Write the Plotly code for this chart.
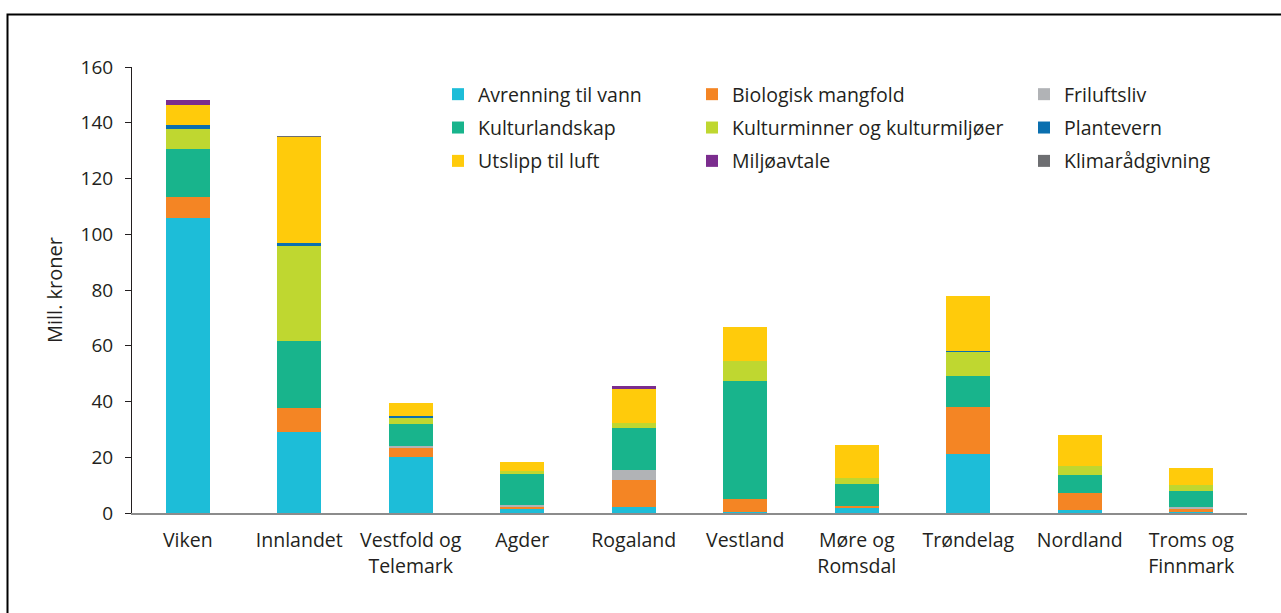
import plotly.graph_objects as go

regions = ["Viken", "Innlandet", "Vestfold og<br>Telemark", "Agder", "Rogaland",
           "Vestland", "Møre og<br>Romsdal", "Trøndelag", "Nordland", "Troms og<br>Finnmark"]

avrenning = [106.0, 29.2, 20.0, 1.3, 2.3, 0.5, 1.8, 21.2, 1.1, 0.3]
biologisk = [7.4, 8.4, 3.4, 1.0, 9.4, 4.4, 0.7, 16.7, 6.0, 1.0]
friluftsliv = [0, 0, 0.6, 0.5, 3.8, 0, 0, 0, 0, 0.9]
kulturlandskap = [17.2, 24.2, 8.0, 11.3, 15.1, 42.4, 7.9, 11.2, 6.7, 5.8]
kulturminner = [7.2, 34.1, 2.2, 0.9, 1.6, 7.4, 2.2, 8.7, 3.0, 2.0]
plantevern = [1.5, 1.0, 0.6, 0, 0, 0, 0, 0.4, 0, 0]
utslipp = [7.2, 38.0, 4.7, 3.3, 12.3, 11.9, 11.8, 19.6, 11.1, 6.3]
miljoavtale = [1.5, 0, 0, 0, 1.1, 0, 0, 0, 0, 0]
klima = [0, 0.3, 0, 0, 0, 0, 0, 0, 0, 0]

series = [
    ("Avrenning til vann", avrenning, "#1DBDD8", "legend"),
    ("Biologisk mangfold", biologisk, "#F48524", "legend2"),
    ("Friluftsliv", friluftsliv, "#B1B3B6", "legend3"),
    ("Kulturlandskap", kulturlandskap, "#18B48C", "legend"),
    ("Kulturminner og kulturmiljøer", kulturminner, "#BFD730", "legend2"),
    ("Plantevern", plantevern, "#0A6FAF", "legend3"),
    ("Utslipp til luft", utslipp, "#FFCB0B", "legend"),
    ("Miljøavtale", miljoavtale, "#7B2D8E", "legend2"),
    ("Klimarådgivning", klima, "#6D6E71", "legend3"),
]

FONT = "Open Sans"
TXT = "#231F20"

fig = go.Figure()
for name, vals, color, lg in series:
    fig.add_trace(go.Bar(
        x=regions, y=vals, name=name, legend=lg, legendgroup=name,
        marker=dict(color=color, line=dict(width=0)),
    ))

# plot area: x 132..1247, y 67..513
def lx(px):
    return (px - 132) / 1115.0

def ly(py):
    return (513 - py) / 446.0

legend_common = dict(
    orientation="v", traceorder="grouped", tracegroupgap=5,
    bgcolor="rgba(0,0,0,0)", borderwidth=0,
    font=dict(family=FONT, size=19.5, color=TXT),
    xanchor="left", yanchor="top", y=ly(75),
)

fig.update_layout(
    barmode="stack",
    bargap=0.605,
    width=1281, height=613,
    margin=dict(l=132, r=34, t=67, b=100),
    paper_bgcolor="white", plot_bgcolor="white",
    font=dict(family=FONT, size=19, color=TXT),
    legend=dict(x=lx(438), **legend_common),
    legend2=dict(x=lx(692), **legend_common),
    legend3=dict(x=lx(1024), **legend_common),
    xaxis=dict(
        showline=True, linecolor="#8C8C8C", linewidth=2,
        ticks="", showgrid=False, ticklabelstandoff=9,
        tickfont=dict(family=FONT, size=19.5, color=TXT),
    ),
    yaxis=dict(
        range=[0, 160], dtick=20, showgrid=False, zeroline=False,
        showline=True, linecolor=TXT, linewidth=1,
        ticks="outside", ticklen=6, tickcolor=TXT, tickwidth=1,
        ticklabelstandoff=8,
        tickfont=dict(family=FONT, size=19, color=TXT),
        title=dict(text="Mill. kroner", font=dict(family=FONT, size=20, color=TXT), standoff=12),
    ),
    shapes=[dict(
        type="rect", xref="paper", yref="paper",
        x0=lx(7.5), x1=1.2, y0=-0.6, y1=ly(14.5),
        line=dict(color="black", width=2), fillcolor="rgba(0,0,0,0)", layer="above",
    )],
)

fig.write_html("out.html", config={"displayModeBar": False},
               post_script="document.body.style.margin='0';")
